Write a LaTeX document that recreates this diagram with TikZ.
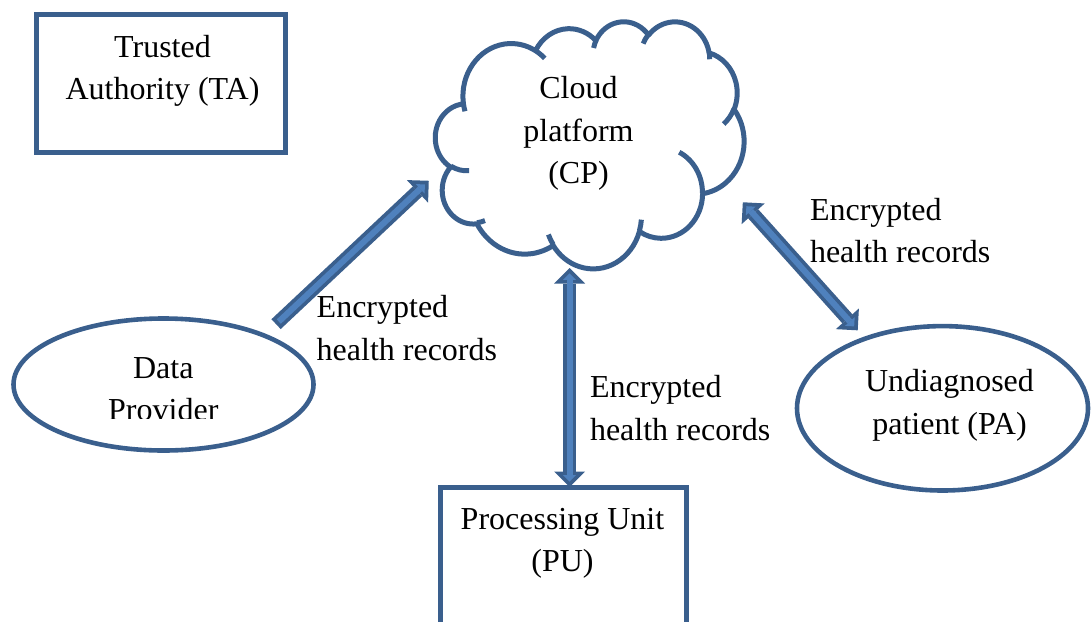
\documentclass[tikz,border=0pt]{standalone}
\usepackage{fontspec}
\setmainfont{Liberation Serif}
\usetikzlibrary{shapes.geometric,arrows.meta}
\definecolor{shapeblue}{HTML}{3A5F8D}
\definecolor{arrowblue}{HTML}{4F81BD}
\tikzset{
  outtip/.tip={Triangle[width=31pt,length=15.5pt,line width=0pt]},
  intip/.tip={Triangle[width=13pt,length=6.5pt,line width=0pt]}
}
\begin{document}
\begin{tikzpicture}[x=1pt,y=1pt]
    \tikzstyle{every node}+=[inner sep=0pt, outer sep=0pt]
    \tikzstyle{txt}=[font=\fontsize{32pt}{42.5pt}\selectfont, align=center]
    \tikzstyle{boxed}=[rectangle, draw=shapeblue, line width=5pt]
    \tikzstyle{oval}=[ellipse, draw=shapeblue, line width=4.6pt]
    \tikzstyle{arrowout}=[draw=shapeblue, line width=13.5pt]
    \tikzstyle{arrowin}=[draw=arrowblue, line width=6pt]
    \useasboundingbox (0,0) rectangle (1091,-621);
    \node [boxed, minimum width=248.5pt, minimum height=138pt] (ta) at (160.75,-83.5) {};
    \node [txt] (tatext) at (162.5,-71.1) {Trusted\\Authority (TA)};
    \node [ellipse, minimum width=308.5pt, minimum height=247pt] (cp) at (589.75,-144.5) {};
    \begin{scope}[shift={(cp.center)}, x=0.7141pt, y=-0.5718pt, shift={(-216,-216)}]
        \draw [shapeblue, line width=5pt, line join=round] (39,143.7)
            arc [start angle=-187.75, end angle=-59.64, x radius=67.53, y radius=91.90]
            arc [start angle=-152.02, end angle=-45.46, x radius=53.33, y radius=72.67]
            arc [start angle=-153.49, end angle=-37.33, x radius=43.65, y radius=59.45]
            arc [start angle=-139.71, end angle=-10.21, x radius=48.57, y radius=65.95]
            arc [start angle=-74.77, end angle=23.21, x radius=53.33, y radius=72.73]
            arc [start angle=-37.52, end angle=81.86, x radius=67.75, y radius=92.20]
            arc [start angle=0.46, end angle=121.98, x radius=57.85, y radius=78.67]
            arc [start angle=16.84, end angle=146.22, x radius=67.52, y radius=92.15]
            arc [start angle=58.98, end angle=150.19, x radius=77.20, y radius=105.43]
            arc [start angle=83.31, end angle=223.11, x radius=43.60, y radius=59.18]
            arc [start angle=120.35, end angle=264.11, x radius=43.45, y radius=59.45]
            -- cycle;
        \draw [shapeblue, line width=5pt]
            (46.93,261.77) arc [start angle=85.55, end angle=120.35, x radius=43.45, y radius=59.45]
            (69.28,348.99) arc [start angle=68.24, end angle=83.31, x radius=43.60, y radius=59.18]
            (164.78,390.90) arc [start angle=146.22, end angle=158.47, x radius=67.52, y radius=92.15]
            (288.27,347.51) arc [start angle=4.74, end angle=16.84, x radius=67.52, y radius=92.15]
            (341.29,229.54) arc [start angle=-64.03, end angle=0.46, x radius=57.85, y radius=78.67]
            (417.98,153.54) arc [start angle=23.21, end angle=49.64, x radius=53.33, y radius=72.73]
            (383.24,54.26) arc [start angle=-10.21, end angle=0.82, x radius=48.57, y radius=65.95]
            (290.78,39.52) arc [start angle=-156.29, end angle=-139.71, x radius=48.57, y radius=65.95]
            (221.41,47.20) arc [start angle=-167.73, end angle=-153.49, x radius=43.65, y radius=59.45]
            (140.00,51.92) arc [start angle=-59.64, end angle=-45.74, x radius=67.53, y radius=91.90]
            (41.27,157.89) arc [start angle=163.19, end angle=172.26, x radius=67.53, y radius=91.90];
    \end{scope}
    \node [txt] (cptext) at (578.5,-133.7) {Cloud\\platform\\(CP)};
    \node [oval, minimum width=300pt, minimum height=132pt] (dp) at (163.5,-384.5) {};
    \begin{scope}
        \clip (0,0) rectangle (1091,-418.5);
        \node [txt] (dptext) at (163.3,-389) {Data\\Provider};
    \end{scope}
    \node [oval, minimum width=291pt, minimum height=164.4pt] (pa) at (942.5,-408.3) {};
    \node [txt] (patext) at (949.5,-405.5) {Undiagnosed\\patient (PA)};
    \node [boxed, minimum width=246pt, minimum height=200pt, anchor=north] (pu) at (563,-487) {};
    \node [txt] (putext) at (562.5,-543.2) {Processing Unit\\(PU)};
    \node [txt, align=left, anchor=west] (lbl1) at (316.7,-327.8) {Encrypted\\health records};
    \node [txt, align=left, anchor=west] (lbl2) at (590,-407.8) {Encrypted\\health records};
    \node [txt, align=left, anchor=west] (lbl3) at (810,-230.5) {Encrypted\\health records};
    \coordinate (pux) at ([xshift=6.5pt]pu.north);
    \draw [arrowout, -outtip, shorten <=16.6pt, shorten >=14.2pt] (dp.26) -- (cp.190);
    \draw [arrowin, -intip, shorten <=20.35pt, shorten >=19.5pt] (dp.26) -- (cp.190);
    \draw [arrowout, outtip-outtip] (pux) -- (pux |- cp.south);
    \draw [arrowin, intip-intip, shorten <=5.3pt, shorten >=5.3pt] (pux) -- (pux |- cp.south);
    \draw [arrowout, outtip-outtip, shorten <=15.2pt, shorten >=11.2pt] (cp.342) -- (pa.138);
    \draw [arrowin, intip-intip, shorten <=20.5pt, shorten >=16.5pt] (cp.342) -- (pa.138);
\end{tikzpicture}
\end{document}
